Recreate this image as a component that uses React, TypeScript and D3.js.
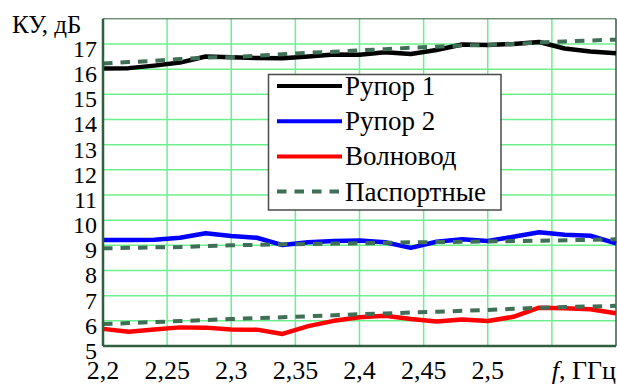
import React, { useEffect, useRef } from "react";
import * as d3 from "d3";

// frequency, GHz
const freqs = [2.2, 2.22, 2.24, 2.26, 2.28, 2.3, 2.32, 2.34, 2.36, 2.38, 2.4, 2.42, 2.44, 2.46, 2.48, 2.5, 2.52, 2.54, 2.56, 2.58, 2.6];

// gain, dB
const horn1 = [16.03, 16.04, 16.14, 16.26, 16.5, 16.47, 16.44, 16.43, 16.5, 16.58, 16.57, 16.67, 16.6, 16.76, 16.98, 16.96, 17.0, 17.08, 16.82, 16.7, 16.63];
const horn2 = [9.21, 9.21, 9.22, 9.3, 9.48, 9.37, 9.3, 9.01, 9.12, 9.17, 9.19, 9.12, 8.9, 9.14, 9.24, 9.17, 9.34, 9.52, 9.42, 9.38, 9.08];
const waveguide = [5.68, 5.57, 5.66, 5.74, 5.73, 5.66, 5.65, 5.48, 5.79, 6.0, 6.14, 6.2, 6.07, 5.97, 6.05, 5.99, 6.16, 6.52, 6.5, 6.46, 6.3];
const passportHigh = [16.22, 16.28, 16.33, 16.4, 16.46, 16.48, 16.53, 16.59, 16.65, 16.69, 16.75, 16.79, 16.85, 16.89, 16.94, 16.96, 17.0, 17.06, 17.1, 17.14, 17.17];
const passportMid = [8.88, 8.9, 8.92, 8.93, 8.97, 9.0, 9.02, 9.04, 9.05, 9.07, 9.08, 9.1, 9.12, 9.13, 9.14, 9.15, 9.17, 9.18, 9.2, 9.22, 9.24];
const passportLow = [5.87, 5.91, 5.95, 5.99, 6.03, 6.07, 6.11, 6.14, 6.18, 6.22, 6.26, 6.29, 6.33, 6.36, 6.4, 6.43, 6.48, 6.52, 6.55, 6.57, 6.6];

const xTicks = [2.2, 2.25, 2.3, 2.35, 2.4, 2.45, 2.5];
const xGrid = [2.25, 2.3, 2.35, 2.4, 2.45, 2.5, 2.55];
const yTicks = [5, 6, 7, 8, 9, 10, 11, 12, 13, 14, 15, 16, 17];
const legendNames = ["Рупор 1", "Рупор 2", "Волновод", "Паспортные"];

const App = () => {
    const svgRef = useRef<SVGSVGElement>(null);

    useEffect(() => {
        const w = 617;
        const h = 385;
        const font = "Liberation Serif, Times New Roman, serif";
        const gridColor = "#6cf08e";
        const axisColor = "#2f5f3f";
        const passColor = "#3f6f57";

        const svg = d3.select(svgRef.current)
            .attr("width", w)
            .attr("height", h)
            .style("position", "absolute")
            .style("left", "0px")
            .style("top", "0px")
            .style("background", "white")
            .style("font-family", font);
        svg.selectAll("*").remove();

        // scales
        const x = d3.scaleLinear().domain([2.2, 2.6]).range([103, 616]);
        const y = d3.scaleLinear().domain([5, 18]).range([346, 18.8]);

        // grid
        svg.append("g").selectAll("line")
            .data(xGrid)
            .join("line")
            .attr("x1", d => x(d)).attr("x2", d => x(d))
            .attr("y1", y(18)).attr("y2", y(5))
            .attr("stroke", gridColor).attr("stroke-width", 1.5);
        svg.append("g").selectAll("line")
            .data(yTicks.filter(d => d > 5))
            .join("line")
            .attr("x1", x(2.2)).attr("x2", x(2.6))
            .attr("y1", d => y(d)).attr("y2", d => y(d))
            .attr("stroke", gridColor).attr("stroke-width", 1.5);

        // frame
        svg.append("line")
            .attr("x1", x(2.2)).attr("x2", x(2.6))
            .attr("y1", y(18)).attr("y2", y(18))
            .attr("stroke", axisColor).attr("stroke-width", 1);
        svg.append("line")
            .attr("x1", x(2.6)).attr("x2", x(2.6))
            .attr("y1", y(18)).attr("y2", y(5))
            .attr("stroke", axisColor).attr("stroke-width", 1.5);

        // series
        const line = (vals: number[]) => d3.line<number>()
            .x((_, i) => x(freqs[i]))
            .y(d => y(d))(vals);

        const solid = [
            { vals: horn1, color: "#000000" },
            { vals: horn2, color: "#0000ff" },
            { vals: waveguide, color: "#ff0000" },
        ];
        solid.forEach(s => {
            svg.append("path")
                .attr("d", line(s.vals))
                .attr("fill", "none")
                .attr("stroke", s.color)
                .attr("stroke-width", 4.5)
                .attr("stroke-linejoin", "round");
        });
        [passportHigh, passportMid, passportLow].forEach(vals => {
            svg.append("path")
                .attr("d", line(vals))
                .attr("fill", "none")
                .attr("stroke", passColor)
                .attr("stroke-width", 4)
                .attr("stroke-dasharray", "9.5 8");
        });

        // axes lines
        svg.append("line")
            .attr("x1", x(2.2)).attr("x2", x(2.2))
            .attr("y1", y(18)).attr("y2", y(5))
            .attr("stroke", axisColor).attr("stroke-width", 2.5);
        svg.append("line")
            .attr("x1", x(2.2)).attr("x2", x(2.6))
            .attr("y1", y(5)).attr("y2", y(5))
            .attr("stroke", axisColor).attr("stroke-width", 2.5);

        // tick labels
        svg.append("g").selectAll("text")
            .data(yTicks)
            .join("text")
            .attr("x", 97)
            .attr("y", d => y(d) + 13)
            .attr("text-anchor", "end")
            .attr("font-size", 24)
            .text(d => String(d));
        svg.append("g").selectAll("text")
            .data(xTicks)
            .join("text")
            .attr("x", d => x(d))
            .attr("y", 379)
            .attr("text-anchor", "middle")
            .attr("font-size", 26)
            .text(d => String(d).replace(".", ","));

        svg.append("text")
            .attr("x", 12).attr("y", 33)
            .attr("font-size", 25)
            .text("КУ, дБ");
        const fl = svg.append("text")
            .attr("x", 616).attr("y", 379)
            .attr("text-anchor", "end")
            .attr("font-size", 26);
        fl.append("tspan").attr("font-style", "italic").text("f");
        fl.append("tspan").text(", ГГц");

        // legend
        const lg = svg.append("g");
        lg.append("rect")
            .attr("x", 268.5).attr("y", 74.5)
            .attr("width", 232.5).attr("height", 135.5)
            .attr("fill", "white")
            .attr("stroke", "#4a4a4a").attr("stroke-width", 1.5);
        const legendStyles = [
            { color: "#000000", dash: null },
            { color: "#0000ff", dash: null },
            { color: "#ff0000", dash: null },
            { color: passColor, dash: "9.5 8" },
        ];
        legendNames.forEach((name, i) => {
            const ly = 86 + i * 35.2;
            lg.append("line")
                .attr("x1", 277).attr("x2", 342)
                .attr("y1", ly).attr("y2", ly)
                .attr("stroke", legendStyles[i].color)
                .attr("stroke-width", 4)
                .attr("stroke-dasharray", legendStyles[i].dash);
            lg.append("text")
                .attr("x", 345).attr("y", ly + 9)
                .attr("font-size", 27)
                .text(name);
        });
    }, []);

    return (
        <div>
            <svg ref={svgRef}></svg>
        </div>
    );
};

export default App;
